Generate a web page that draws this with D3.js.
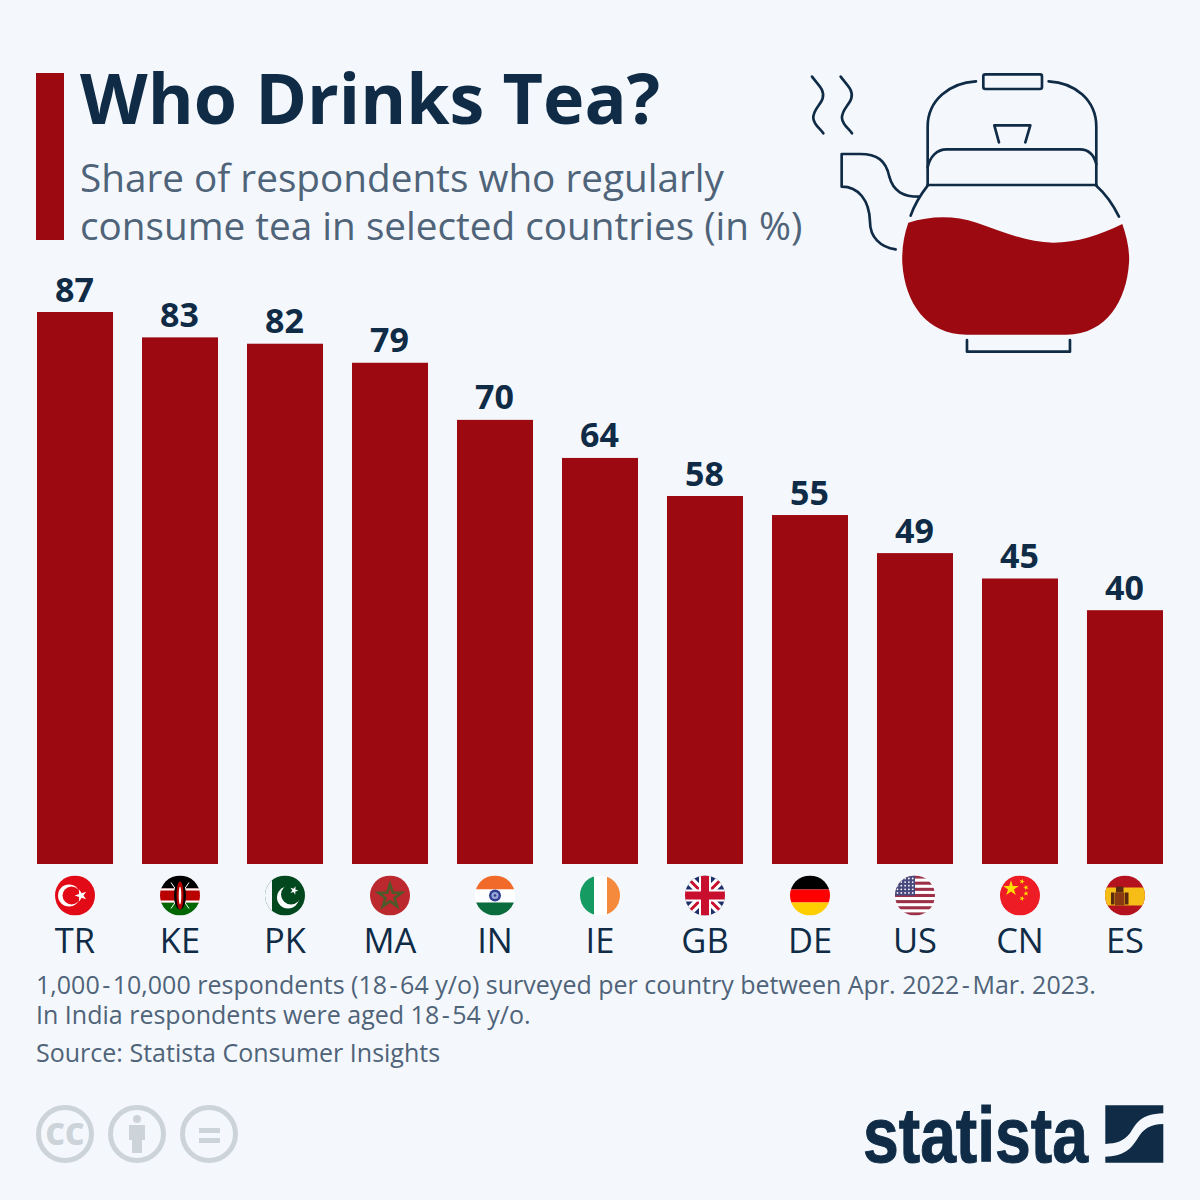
<!DOCTYPE html>
<html>
<head>
<meta charset="utf-8">
<script src="https://cdn.jsdelivr.net/npm/d3@7"></script>
<style>
  html, body { margin: 0; padding: 0; background: #f4f8fc; }
  svg { display: block; font-family: "Open Sans", sans-serif; }
</style>
</head>
<body>
<svg id="chart" width="1200" height="1200"></svg>
<script>
const countries = ['TR', 'KE', 'PK', 'MA', 'IN', 'IE', 'GB', 'DE', 'US', 'CN', 'ES'];
const shares = [87, 83, 82, 79, 70, 64, 58, 55, 49, 45, 40];
const subtitleLines = ['Share of respondents who regularly', 'consume tea in selected countries (in %)'];
const noteLines = [
  '1,000-10,000 respondents (18-64 y/o) surveyed per country between Apr. 2022-Mar. 2023.',
  'In India respondents were aged 18-54 y/o.',
];
const sourceLine = 'Source: Statista Consumer Insights';

const navy = '#0f2b46';
const grey = '#4f6379';
const red = '#9c0910';

const svg = d3.select('#chart');
const defs = svg.append('defs');

// header
svg.append('rect').attr('x', 36).attr('y', 73).attr('width', 28).attr('height', 167).attr('fill', red);
svg.append('text').attr('x', 80).attr('y', 124).attr('font-size', 70).attr('font-weight', 700)
  .attr('fill', navy).text('Who Drinks Tea?');
subtitleLines.forEach((line, i) => {
  svg.append('text').attr('x', 80).attr('y', 192 + i * 48).attr('font-size', 38.7).attr('fill', grey).text(line);
});

// bars
const x = d3.scaleBand().domain(countries).range([37, 1163]).paddingInner(0.276).paddingOuter(0);
const y = d3.scaleLinear().domain([0, 87]).range([864, 312]);

svg.append('g').selectAll('rect').data(countries).join('rect')
  .attr('x', (d) => x(d))
  .attr('y', (d, i) => y(shares[i]))
  .attr('width', x.bandwidth())
  .attr('height', (d, i) => y(0) - y(shares[i]))
  .attr('fill', red);

svg.append('g').selectAll('text').data(countries).join('text')
  .attr('x', (d) => x(d) + x.bandwidth() / 2 - 0.5)
  .attr('y', (d, i) => y(shares[i]) - 10.5)
  .attr('text-anchor', 'middle')
  .attr('font-size', 34).attr('font-weight', 700).attr('fill', navy)
  .text((d, i) => shares[i]);

const axis = svg.append('g').attr('transform', 'translate(0,864)')
  .call(d3.axisBottom(x).tickSize(0).tickPadding(65));
axis.select('.domain').remove();
axis.selectAll('text').attr('font-size', 34.5).attr('font-family', '"Open Sans", sans-serif').attr('fill', navy);

// flags, 40px circle around 0,0
function star(g, cx, cy, size, fill, rot = 0) {
  g.append('path').attr('d', d3.symbol(d3.symbolStar, size)())
    .attr('transform', `translate(${cx},${cy}) rotate(${rot})`).attr('fill', fill);
}
function band(g, x0, y0, w, h, fill) {
  g.append('rect').attr('x', x0).attr('y', y0).attr('width', w).attr('height', h).attr('fill', fill);
}
const flagDrawers = {
  TR(g) {
    band(g, -20, -20, 40, 40, '#e30a17');
    g.append('circle').attr('cx', -6).attr('r', 11).attr('fill', '#fff');
    g.append('circle').attr('cx', -3.5).attr('r', 9).attr('fill', '#e30a17');
    star(g, 6, 0, 45, '#fff', -18);
  },
  KE(g) {
    band(g, -20, -20, 40, 13, '#000');
    band(g, -20, -7, 40, 14, '#b00');
    band(g, -20, 7, 40, 13, '#060');
    band(g, -20, -7, 40, 2, '#fff');
    band(g, -20, 5, 40, 2, '#fff');
    g.append('path').attr('d', 'M-9,-13L9,13M9,-13L-9,13').attr('stroke', '#fff').attr('stroke-width', 1);
    g.append('ellipse').attr('rx', 6).attr('ry', 14).attr('fill', '#000');
    g.append('ellipse').attr('rx', 3.5).attr('ry', 14).attr('fill', '#b00');
    g.append('ellipse').attr('rx', 1.3).attr('ry', 9).attr('fill', '#fff');
  },
  PK(g) {
    band(g, -20, -20, 40, 40, '#01481f');
    band(g, -20, -20, 7, 40, '#f4f8fc');
    g.append('circle').attr('cx', 3).attr('cy', 2).attr('r', 11).attr('fill', '#fff');
    g.append('circle').attr('cx', 6).attr('cy', -1).attr('r', 10).attr('fill', '#01481f');
    star(g, 9, -5, 22, '#fff', 20);
  },
  MA(g) {
    band(g, -20, -20, 40, 40, '#bb282e');
    g.append('path').attr('d', d3.symbol(d3.symbolStar, 170)())
      .attr('transform', 'translate(0,1)').attr('fill', 'none').attr('stroke', '#4c5a2c').attr('stroke-width', 2.6);
  },
  IN(g) {
    band(g, -20, -20, 40, 14, '#f26a2a');
    band(g, -20, -6, 40, 13, '#fff');
    band(g, -20, 7, 40, 13, '#0a6b3c');
    g.append('circle').attr('r', 6).attr('fill', '#2f3f92');
    g.append('circle').attr('r', 3.6).attr('fill', '#9aa6d6');
    g.append('circle').attr('r', 1.3).attr('fill', '#2f3f92');
  },
  IE(g) {
    band(g, -20, -20, 14, 40, '#169b62');
    band(g, -6, -20, 13, 40, '#fff');
    band(g, 7, -20, 13, 40, '#f58a3c');
  },
  GB(g) {
    band(g, -20, -20, 40, 40, '#1f2f6b');
    g.append('path').attr('d', 'M-20,-20L20,20M20,-20L-20,20').attr('stroke', '#fff').attr('stroke-width', 9);
    g.append('path').attr('d', 'M-20,-20L20,20M20,-20L-20,20').attr('stroke', '#c8102e').attr('stroke-width', 3);
    band(g, -20, -6, 40, 12, '#fff');
    band(g, -6, -20, 12, 40, '#fff');
    band(g, -20, -4, 40, 8, '#c8102e');
    band(g, -4, -20, 8, 40, '#c8102e');
  },
  DE(g) {
    band(g, -20, -20, 40, 14, '#000');
    band(g, -20, -6, 40, 13, '#f00');
    band(g, -20, 7, 40, 13, '#ffce00');
  },
  US(g) {
    band(g, -20, -20, 40, 40, '#fff');
    d3.range(7).forEach((i) => band(g, -20, -20 + i * 6.15, 40, 3.07, '#9c3048'));
    band(g, -20, -20, 20, 20, '#46487e');
    d3.range(5).forEach((r) => d3.range(5).forEach((c) => {
      g.append('circle').attr('cx', -17.5 + c * 3.8).attr('cy', -17 + r * 3.6).attr('r', 0.9).attr('fill', '#fff');
    }));
  },
  CN(g) {
    band(g, -20, -20, 40, 40, '#ee1c25');
    star(g, -9, -7, 75, '#ffde00');
    star(g, 2, -14, 9, '#ffde00', 20);
    star(g, 6, -8, 9, '#ffde00', 45);
    star(g, 6, -2, 9, '#ffde00', 0);
    star(g, 2, 3, 9, '#ffde00', 20);
  },
  ES(g) {
    band(g, -20, -20, 40, 40, '#b5121f');
    band(g, -20, -8, 40, 18, '#f6bd16');
    band(g, -14, -3, 3.5, 12, '#5a2a10');
    band(g, 0, -3, 3.5, 12, '#5a2a10');
    band(g, -10, -3, 9.5, 13, '#8a3a12');
    band(g, -9, -9, 7.5, 6, '#5a2a10');
  },
};

defs.append('clipPath').attr('id', 'flag-clip').append('circle').attr('r', 20);
svg.append('g').selectAll('g').data(countries).join('g')
  .attr('transform', (d) => `translate(${x(d) + x.bandwidth() / 2},895.5)`)
  .append('g').attr('clip-path', 'url(#flag-clip)')
  .each(function (d) { flagDrawers[d](d3.select(this)); });

// footnotes, the hyphens sit a bit apart from the digits
function noteText(line, yPos) {
  const dx = Array.from(line, (ch, i) => {
    if (ch === '-' || line[i - 1] === '-') return 2.5;
    return 0;
  });
  svg.append('text').attr('x', 36).attr('y', yPos).attr('dx', dx.join(' '))
    .attr('font-size', 25).attr('fill', grey).text(line);
}
noteLines.forEach((line, i) => noteText(line, 994 + i * 30));
noteText(sourceLine, 1062);

// teapot, traced at 3x
const pot = svg.append('g').attr('transform', 'translate(790,60) scale(0.3333)');
pot.append('path').attr('fill', red)
  .attr('d', 'M355,488C420,468 490,465 560,488C640,515 710,548 790,548C860,548 930,525 997,492C1010,530 1020,570 1017,610C1010,720 950,824 830,824L530,824C410,824 345,730 337,610C335,565 342,525 355,488Z');
const potLines = pot.append('g').attr('fill', 'none').attr('stroke', navy).attr('stroke-width', 8).attr('stroke-linecap', 'round').attr('stroke-linejoin', 'round');
[
  'M66,50C85,75 105,90 98,115C92,135 68,150 70,175C72,195 90,205 100,220',
  'M152,50C171,75 191,90 184,115C178,135 154,150 156,175C158,195 176,205 186,220',
  'M558,64C480,68 413,120 413,200L413,375',
  'M776,64C855,68 919,120 919,200L919,375',
  'M413,322C420,290 440,268 470,268L870,268C895,268 912,285 919,312',
  'M413,375L919,375',
  'M627,247L613,196L721,196L706,247',
  'M413,377C395,400 375,430 362,467',
  'M919,377C945,400 970,435 987,470',
  'M388,410C340,410 310,395 298,350C288,300 260,282 210,282L155,282L155,380C205,380 238,420 240,485C240,530 270,562 317,568',
  'M531,840L531,875L840,875L840,840',
].forEach((d) => potLines.append('path').attr('d', d));
potLines.append('rect').attr('x', 580).attr('y', 43).attr('width', 176).attr('height', 44).attr('rx', 6);

// licence icons
const iconGrey = '#ccd3d9';
const icons = svg.append('g');
[65, 137, 209].forEach((cx) => {
  icons.append('circle').attr('cx', cx).attr('cy', 1134).attr('r', 26.5).attr('fill', 'none').attr('stroke', iconGrey).attr('stroke-width', 5);
});
icons.append('text').attr('x', 65).attr('y', 1145).attr('text-anchor', 'middle').attr('font-size', 30).attr('font-weight', 800).attr('fill', iconGrey).text('CC');
icons.append('circle').attr('cx', 137).attr('cy', 1119).attr('r', 4).attr('fill', iconGrey);
icons.append('path').attr('fill', iconGrey).attr('d', 'M129,1125L145,1125L145,1140L142,1140L142,1153L132,1153L132,1140L129,1140Z');
band(icons, 199, 1128, 21, 5, iconGrey);
band(icons, 199, 1138, 21, 5, iconGrey);

// logo
svg.append('text').attr('x', 863).attr('y', 1162).attr('font-family', '"Liberation Sans Narrow", "Liberation Sans", sans-serif')
  .attr('font-size', 78).attr('font-weight', 700).attr('fill', navy).attr('stroke', navy).attr('stroke-width', 1)
  .attr('textLength', 225).attr('lengthAdjust', 'spacingAndGlyphs').text('statista');
const logo = svg.append('g').attr('transform', 'translate(850,1090) scale(0.3333)').attr('fill', navy);
logo.append('path').attr('d', 'M766,46L940,46L940,70C870,72 860,100 840,130C820,155 800,160 766,162Z');
logo.append('path').attr('d', 'M940,102L940,218L766,218L766,200C820,198 840,180 860,150C880,115 900,103 940,102Z');
</script>
</body>
</html>
